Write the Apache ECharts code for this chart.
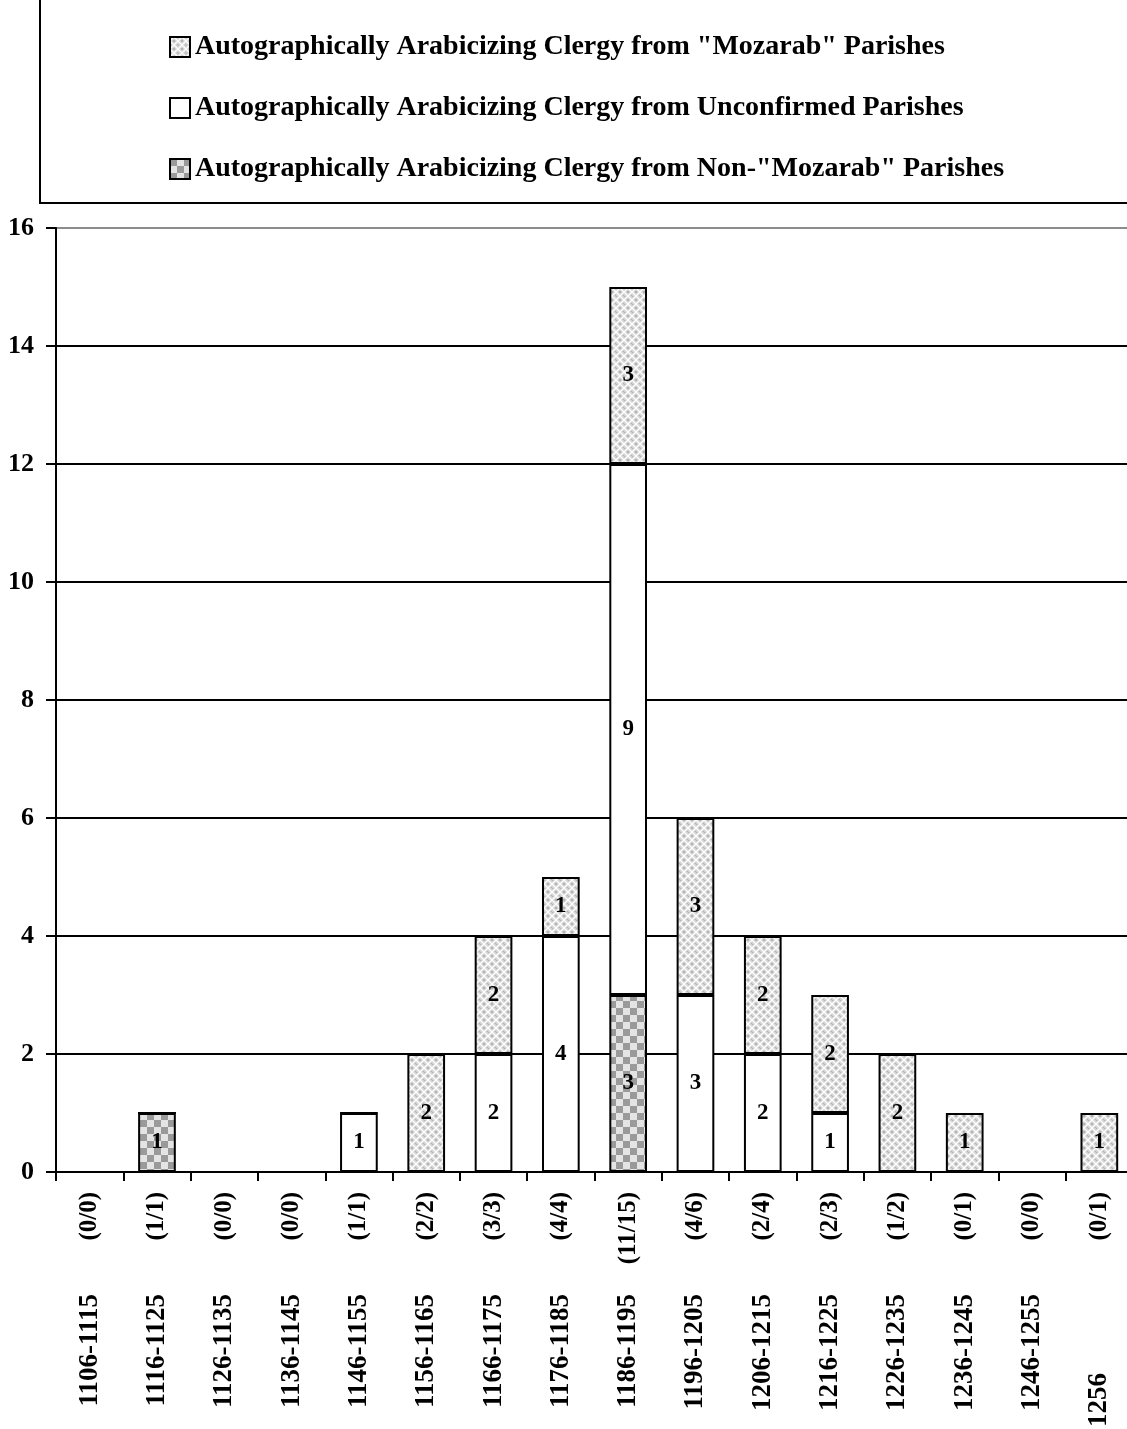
<!DOCTYPE html>
<html>
<head>
<meta charset="utf-8">
<script src="https://cdn.jsdelivr.net/npm/echarts@6/dist/echarts.min.js"></script>
<style>
  html, body { margin: 0; padding: 0; background: #fff; }
  #chart { width: 1127px; height: 1429px; }
</style>
</head>
<body>
<div id="chart"></div>
<script>
// Decades of attestation
const periods = ['1106-1115', '1116-1125', '1126-1135', '1136-1145', '1146-1155', '1156-1165',
  '1166-1175', '1176-1185', '1186-1195', '1196-1205', '1206-1215', '1216-1225',
  '1226-1235', '1236-1245', '1246-1255', '1256'];
// Ratio shown beneath each bar
const ratios = ['(0/0)', '(1/1)', '(0/0)', '(0/0)', '(1/1)', '(2/2)', '(3/3)', '(4/4)',
  '(11/15)', '(4/6)', '(2/4)', '(2/3)', '(1/2)', '(0/1)', '(0/0)', '(0/1)'];
// Stacked counts, bottom to top
const nonMozarab  = [0, 1, 0, 0, 0, 0, 0, 0, 3, 0, 0, 0, 0, 0, 0, 0];
const unconfirmed = [0, 0, 0, 0, 1, 0, 2, 4, 9, 3, 2, 1, 0, 0, 0, 0];
const mozarab     = [0, 0, 0, 0, 0, 2, 2, 1, 3, 3, 2, 2, 2, 1, 0, 1];
const yTicks = { min: 0, max: 16, interval: 2 };

const NAME_MOZ = 'Autographically Arabicizing Clergy from "Mozarab" Parishes';
const NAME_UNC = 'Autographically Arabicizing Clergy from Unconfirmed Parishes';
const NAME_NON = 'Autographically Arabicizing Clergy from Non-"Mozarab" Parishes';

const FONT = '"Liberation Serif", "Times New Roman", serif';

// Grey/white checkerboard fill
function checkerTile() {
  const c = document.createElement('canvas');
  const s = 7;
  c.width = c.height = s * 2;
  const g = c.getContext('2d');
  g.fillStyle = '#e4e4e4';
  g.fillRect(0, 0, s * 2, s * 2);
  g.fillStyle = '#9a9a9a';
  g.fillRect(0, 0, s, s);
  g.fillRect(s, s, s, s);
  return c;
}

// Light grey basket-weave fill
function weaveTile() {
  const c = document.createElement('canvas');
  c.width = c.height = 8;
  const g = c.getContext('2d');
  g.fillStyle = '#d2d2d2';
  g.fillRect(0, 0, 8, 8);
  g.strokeStyle = '#ffffff';
  g.lineWidth = 1.3;
  g.beginPath();
  g.moveTo(0, 4); g.lineTo(4, 0);
  g.moveTo(4, 8); g.lineTo(8, 4);
  g.moveTo(4, 0); g.lineTo(8, 4);
  g.moveTo(0, 4); g.lineTo(4, 8);
  g.stroke();
  g.fillStyle = '#b3b3b3';
  g.fillRect(3, 3, 2, 2);
  g.fillRect(7, 7, 1, 1);
  g.fillRect(0, 0, 1, 1);
  return c;
}

const checkerFill = { image: checkerTile(), repeat: 'repeat' };
const weaveFill = { image: weaveTile(), repeat: 'repeat' };

const barLabel = {
  show: true,
  position: 'inside',
  color: '#000',
  fontFamily: FONT,
  fontWeight: 'bold',
  fontSize: 23,
  formatter: p => (p.value ? String(p.value) : '')
};

function barSeries(name, data, fill) {
  return {
    name: name,
    type: 'bar',
    stack: 'total',
    barWidth: '56%',
    data: data,
    itemStyle: { color: fill, borderColor: '#000', borderWidth: 2 },
    label: barLabel,
    emphasis: { disabled: true },
    animation: false
  };
}

const chart = echarts.init(document.getElementById('chart'), null, { renderer: 'canvas' });

chart.setOption({
  backgroundColor: '#fff',
  animation: false,
  graphic: [{
    type: 'rect',
    shape: { x: 40, y: -4, width: 1100, height: 207 },
    style: { fill: 'none', stroke: '#000', lineWidth: 2 },
    silent: true
  }],
  legend: {
    orient: 'vertical',
    left: 164,
    top: 28,
    itemGap: 33,
    itemWidth: 20,
    itemHeight: 20,
    icon: 'rect',
    data: [NAME_MOZ, NAME_UNC, NAME_NON],
    itemStyle: { borderColor: '#000', borderWidth: 2 },
    textStyle: {
      fontFamily: FONT, fontWeight: 'bold', fontSize: 28, lineHeight: 28,
      color: '#000', padding: [0, 0, 0, 0]
    },
    selectedMode: false
  },
  grid: { left: 56, right: -6, top: 228, bottom: 257, containLabel: false, outerBoundsMode: 'none' },
  xAxis: [{
    type: 'category',
    data: periods,
    position: 'bottom',
    axisLine: { show: true, lineStyle: { color: '#000', width: 2 } },
    axisTick: { show: true, length: 9, lineStyle: { color: '#000', width: 2 } },
    axisLabel: {
      rotate: 90,
      margin: 20,
      interval: 0,
      fontFamily: FONT,
      fontWeight: 'bold',
      fontSize: 25,
      color: '#000',
      formatter: (v, i) => ratios[i]
    }
  }, {
    type: 'category',
    data: periods,
    position: 'bottom',
    axisLine: { show: false },
    axisTick: { show: false },
    axisLabel: {
      rotate: 90,
      margin: 122,
      interval: 0,
      fontFamily: FONT,
      fontWeight: 'bold',
      fontSize: 27,
      color: '#000',
      formatter: v => (v === '1256' ? '{far|' + v + '}' : v),
      rich: {
        far: { fontFamily: FONT, fontWeight: 'bold', fontSize: 27, color: '#000', padding: [0, 79, 0, 0] }
      }
    }
  }],
  yAxis: {
    type: 'value',
    min: yTicks.min,
    max: yTicks.max,
    interval: yTicks.interval,
    axisLine: { show: true, lineStyle: { color: '#000', width: 2 } },
    axisTick: { show: true, length: 10, lineStyle: { color: '#000', width: 2 } },
    axisLabel: {
      margin: 22,
      fontFamily: FONT,
      fontWeight: 'bold',
      fontSize: 26,
      color: '#000'
    },
    splitLine: {
      show: true,
      lineStyle: {
        width: 2,
        color: ['#000', '#000', '#000', '#000', '#000', '#000', '#000', '#000', '#8c8c8c']
      }
    }
  },
  series: [
    barSeries(NAME_NON, nonMozarab, checkerFill),
    barSeries(NAME_UNC, unconfirmed, '#fff'),
    barSeries(NAME_MOZ, mozarab, weaveFill)
  ]
});
</script>
</body>
</html>
